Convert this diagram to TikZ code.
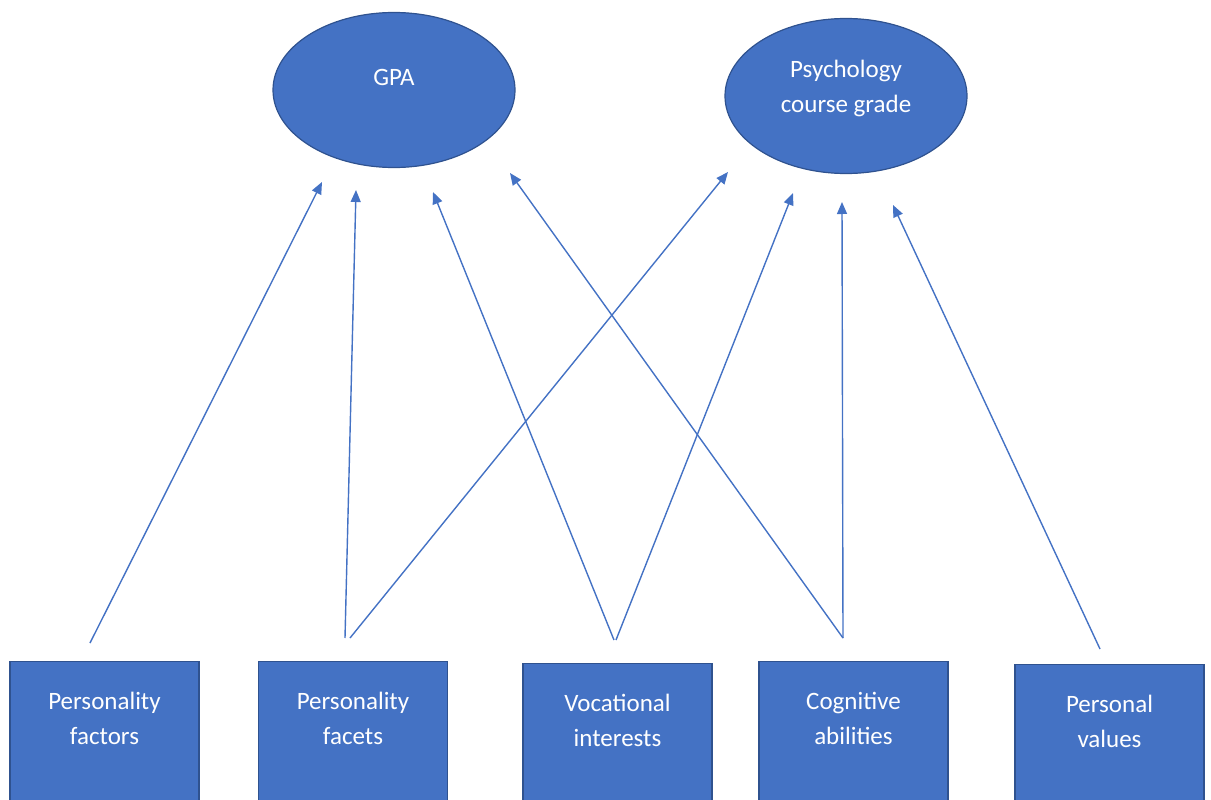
\documentclass[tikz,border=0pt]{standalone}
\usepackage{fontspec}
\setmainfont{Carlito}
\usetikzlibrary{shapes.geometric,arrows.meta}
\definecolor{boxblue}{HTML}{4472C4}
\definecolor{edgeblue}{HTML}{2F528F}

\begin{document}
\begin{tikzpicture}[x=1pt, y=-1pt,
	block/.style={draw=edgeblue, line width=1.2pt, fill=boxblue, text=white, align=center, font=\fontsize{25}{35}\selectfont},
	outcome/.style={block, ellipse, minimum width=242pt, minimum height=155pt},
	predictor/.style={block, rectangle, anchor=north, minimum width=189pt, minimum height=160pt, text height=20pt, text depth=15pt},
	link/.style={draw=boxblue, line width=1.4pt, -{Triangle[length=12pt,width=10pt]}}]
	\useasboundingbox (0,0) rectangle (1211,800);

	\node[outcome, text height=20pt, text depth=28pt] (gpa) at (394,90) {GPA};
	\node[outcome, text height=40pt, text depth=7pt] (psy) at (846,96) {Psychology\\course grade};

	\node[predictor] (fac) at (104.5,661) {Personality\\factors};
	\node[predictor] (fct) at (353,661) {Personality\\facets};
	\node[predictor] (voc) at (617.5,663) {Vocational\\interests};
	\node[predictor] (cog) at (853.5,661) {Cognitive\\abilities};
	\node[predictor] (val) at (1109.5,664) {Personal\\values};

	\draw[link] ([shift={(-14.5,-18)}]fac.north) -- ([shift={(-72,92)}]gpa.center);
	\draw[link] ([shift={(-8,-23)}]fct.north) -- ([shift={(-38,100)}]gpa.center);
	\draw[link] ([shift={(-3,-23)}]fct.north) -- ([shift={(-118,76)}]psy.center);
	\draw[link] ([shift={(-3.5,-23)}]voc.north) -- ([shift={(39,102)}]gpa.center);
	\draw[link] ([shift={(-1.5,-23)}]voc.north) -- ([shift={(-53,97)}]psy.center);
	\draw[link] ([shift={(-10.5,-23)}]cog.north) -- ([shift={(116,83)}]gpa.center);
	\draw[link] ([shift={(-10.5,-23)}]cog.north) -- ([shift={(-4,106)}]psy.center);
	\draw[link] ([shift={(-9.5,-15)}]val.north) -- ([shift={(47,109)}]psy.center);
\end{tikzpicture}
\end{document}
